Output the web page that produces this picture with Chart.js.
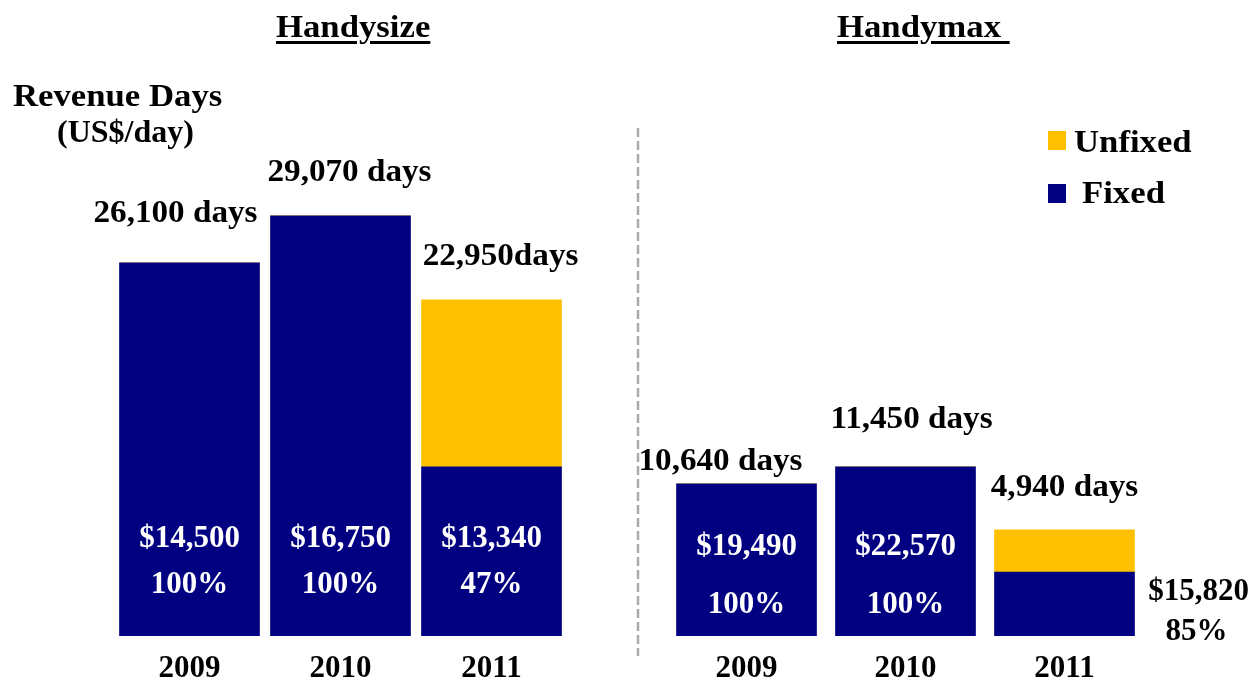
<!DOCTYPE html>
<html>
<head>
<meta charset="utf-8">
<script src="https://cdn.jsdelivr.net/npm/chart.js@4.4.1/dist/chart.umd.min.js"></script>
<style>
  html, body { margin: 0; padding: 0; background: #fff; }
  #wrap { position: relative; width: 1253px; height: 683px; overflow: hidden; font-family: "Liberation Serif", serif; font-weight: bold; color: #000; }
  canvas { position: absolute; left: 0; top: 0; }
  .txt { position: absolute; white-space: nowrap; font-size: 32px; line-height: 32px; transform-origin: 0 0; transform: scaleX(1.085); }
  .title { text-decoration: underline; text-decoration-thickness: 3px; text-underline-offset: 4px; top: 10px; }
  .sq { position: absolute; width: 18px; height: 19px; }
</style>
</head>
<body>
<div id="wrap">
  <canvas id="hs" width="1253" height="683"></canvas>
  <canvas id="hm" width="1253" height="683"></canvas>
  <div class="txt title" style="left:276px">Handysize</div>
  <div class="txt title" style="left:837px">Handymax&nbsp;</div>
  <div class="txt" style="left:13px;top:79px">Revenue Days</div>
  <div class="txt" style="left:57px;top:115px;transform:none">(US$/day)</div>
  <div class="sq" style="left:1048px;top:131px;background:#FFC000"></div>
  <div class="txt" style="left:1074px;top:125px">Unfixed</div>
  <div class="sq" style="left:1048px;top:184px;background:#000080"></div>
  <div class="txt" style="left:1082px;top:176px">Fixed</div>
</div>
<script>
const years = ['2009', '2010', '2011'];

// revenue days, split fixed / unfixed (bar heights as drawn)
const hsFixed = [26100, 29400, 11830];
const hsUnfixed = [0, 0, 11690];
const hmFixed = [10640, 11830, 4480];
const hmUnfixed = [0, 0, 2940];

const hsDays = ['26,100 days', '29,070 days', '22,950days'];
const hmDays = ['10,640 days', '11,450 days', '4,940 days'];
const hsRates = ['$14,500', '$16,750', '$13,340'];
const hsShares = ['100%', '100%', '47%'];
const hmRates = ['$19,490', '$22,570', '$15,820'];
const hmShares = ['100%', '100%', '85%'];

const NAVY = '#000080';
const GOLD = '#FFC000';
const FONT = '"Liberation Serif", serif';

// label nudges [dx, dy above bar top]
const hsNudge = [[-14, 49], [9, 43], [9, 43]];
const hmNudge = [[-26, 22], [6, 47], [0, 42]];

function stretchText(ctx, t, x, y, sx) {
  ctx.save();
  ctx.translate(x, y);
  ctx.scale(sx, 1);
  ctx.fillText(t, 0, 0);
  ctx.restore();
}

function textPlugin(days, rates, shares, nudge, rateDy, shareDy, outsideIdx, dashed) {
  return {
    id: 'barText',
    afterDraw(chart) {
      const ctx = chart.ctx;
      const xs = chart.scales.x, ys = chart.scales.y;
      const ds = chart.data.datasets;
      ctx.save();
      ctx.textAlign = 'center';
      ctx.textBaseline = 'middle';
      ctx.font = 'bold 31px ' + FONT;
      days.forEach((t, i) => {
        const cx = xs.getPixelForValue(i);
        const top = ys.getPixelForValue(ds[0].data[i] + ds[1].data[i]);
        const base = ys.getPixelForValue(0);
        ctx.fillStyle = '#000';
        stretchText(ctx, t, cx + nudge[i][0], top - nudge[i][1], 1.07);
        if (i === outsideIdx) {
          ctx.fillText(rates[i], cx + 134, base - 44);
          ctx.fillText(shares[i], cx + 132, base - 4);
        } else {
          ctx.fillStyle = '#fff';
          ctx.fillText(rates[i], cx, base - rateDy);
          ctx.fillText(shares[i], cx, base - shareDy);
        }
      });
      if (dashed) {
        ctx.strokeStyle = '#AAAAAA';
        ctx.lineWidth = 2.5;
        ctx.setLineDash([9, 4]);
        ctx.beginPath();
        ctx.moveTo(638, 128);
        ctx.lineTo(638, 656);
        ctx.stroke();
      }
      ctx.restore();
    }
  };
}

function makeChart(id, fixed, unfixed, padding, plugin) {
  return new Chart(document.getElementById(id), {
    type: 'bar',
    data: {
      labels: years,
      datasets: [
        { label: 'Fixed', data: fixed, backgroundColor: NAVY, barThickness: 140 },
        { label: 'Unfixed', data: unfixed, backgroundColor: GOLD, barThickness: 140 }
      ]
    },
    options: {
      responsive: false,
      animation: false,
      layout: { padding: padding },
      plugins: { legend: { display: false }, tooltip: { enabled: false } },
      scales: {
        x: {
          stacked: true,
          grid: { display: false, drawTicks: false },
          border: { display: false },
          ticks: { color: '#000', font: { family: FONT, size: 31, weight: 'bold' }, padding: 14 },
          afterFit: a => { a.height = 47; }
        },
        y: { stacked: true, display: false, min: 0, max: 35400 }
      }
    },
    plugins: [plugin]
  });
}

makeChart('hs', hsFixed, hsUnfixed, { left: 114, right: 686, top: 130, bottom: 0 },
  textPlugin(hsDays, hsRates, hsShares, hsNudge, 97, 51, -1, true));
makeChart('hm', hmFixed, hmUnfixed, { left: 667, right: 109, top: 130, bottom: 0 },
  textPlugin(hmDays, hmRates, hmShares, hmNudge, 89, 31, 2, false));
</script>
</body>
</html>
